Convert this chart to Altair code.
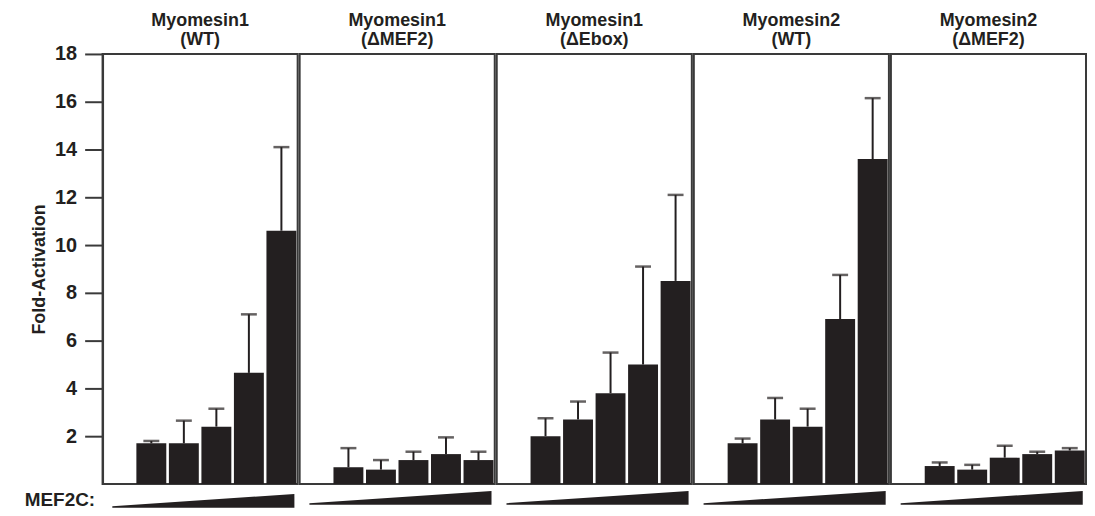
import altair as alt
import pandas as pd

# ---- data ----
title_line1 = ["Myomesin1", "Myomesin1", "Myomesin1", "Myomesin2", "Myomesin2"]
title_line2 = ["(WT)", "(ΔMEF2)", "(ΔEbox)", "(WT)", "(ΔMEF2)"]
doses = [1, 2, 3, 4, 5]
means = [
    [1.7, 1.7, 2.4, 4.65, 10.6],
    [0.7, 0.6, 1.0, 1.25, 1.0],
    [2.0, 2.7, 3.8, 5.0, 8.5],
    [1.7, 2.7, 2.4, 6.9, 13.6],
    [0.75, 0.6, 1.1, 1.25, 1.4],
]
err_top = [
    [1.8, 2.65, 3.15, 7.1, 14.1],
    [1.5, 1.0, 1.35, 1.95, 1.35],
    [2.75, 3.45, 5.5, 9.1, 12.1],
    [1.9, 3.6, 3.15, 8.75, 16.15],
    [0.9, 0.8, 1.6, 1.35, 1.5],
]
y_ticks = [2, 4, 6, 8, 10, 12, 14, 16, 18]
wedge_x = [0.3, 5.9]
wedge_h = [0.12, 1.0]

INK = "#231f20"
LINE = "#3a3a3a"
FONT = "Liberation Sans"
PW, PH = 196, 432
LABEL_FS = 20


def bar_panel(i):
    df = pd.DataFrame({"dose": doses, "mean": means[i], "top": err_top[i]})
    x = alt.X("dose:O",
              scale=alt.Scale(domain=[0, 1, 2, 3, 4, 5], paddingInner=0.08, paddingOuter=0.04),
              axis=None)
    if i == 0:
        yaxis = alt.Axis(values=y_ticks, tickSize=18, tickWidth=2, tickColor=LINE,
                         domainColor=LINE, domainWidth=2, labelPadding=8,
                         labelFont=FONT, labelFontSize=LABEL_FS, labelFontWeight="bold",
                         labelColor=INK,
                         title="Fold-Activation", titleFont=FONT, titleFontSize=18,
                         titleFontWeight="bold", titleColor=INK, titlePadding=6, grid=False)
        toff = 5 - LABEL_FS / 2
    else:
        yaxis = None
        toff = 5
    y = alt.Y("mean:Q", scale=alt.Scale(domain=[0, 18], nice=False), axis=yaxis)
    bars = alt.Chart(df).mark_bar(color=INK).encode(x=x, y=y)
    rule = alt.Chart(df).mark_rule(color=INK, strokeWidth=2).encode(
        x=x, y=alt.Y("mean:Q"), y2="top:Q")
    cap = alt.Chart(df).mark_tick(color=INK, thickness=2.5, size=16).encode(
        x=x, y=alt.Y("top:Q"))
    return alt.layer(bars, rule, cap).properties(
        width=PW, height=PH,
        view=alt.ViewBackground(stroke=LINE, strokeWidth=2),
        title=alt.TitleParams([title_line1[i], title_line2[i]], font=FONT, fontSize=18,
                              fontWeight="bold", color=INK, anchor="middle", frame="group",
                              offset=toff, lineHeight=19))


def wedge_panel(i):
    wdf = pd.DataFrame({"x": wedge_x, "h": wedge_h})
    if i == 0:
        yaxis = alt.Axis(title="MEF2C:", labels=False, ticks=False, domain=False, grid=False,
                         titleAngle=0, titleAlign="right", titleBaseline="middle",
                         titleX=-8, titleY=6, titleFont=FONT, titleFontSize=19,
                         titleFontWeight="bold", titleColor=INK)
    else:
        yaxis = None
    return alt.Chart(wdf).mark_area(color=INK).encode(
        x=alt.X("x:Q", scale=alt.Scale(domain=[0, 6], nice=False), axis=None),
        y=alt.Y("h:Q", scale=alt.Scale(domain=[0, 1], nice=False), axis=yaxis),
    ).properties(width=PW, height=14, view=alt.ViewBackground(strokeWidth=0, stroke=None))


cols = [alt.vconcat(bar_panel(i), wedge_panel(i), spacing=6) for i in range(5)]
chart = alt.hconcat(*cols, spacing=0).properties(
    padding={"left": 16, "top": 2, "right": 0, "bottom": 0},
    background="white",
).configure_view(
    stroke=LINE, strokeWidth=2
)

chart.save("out.html", embed_options={"renderer": "svg", "actions": False})
